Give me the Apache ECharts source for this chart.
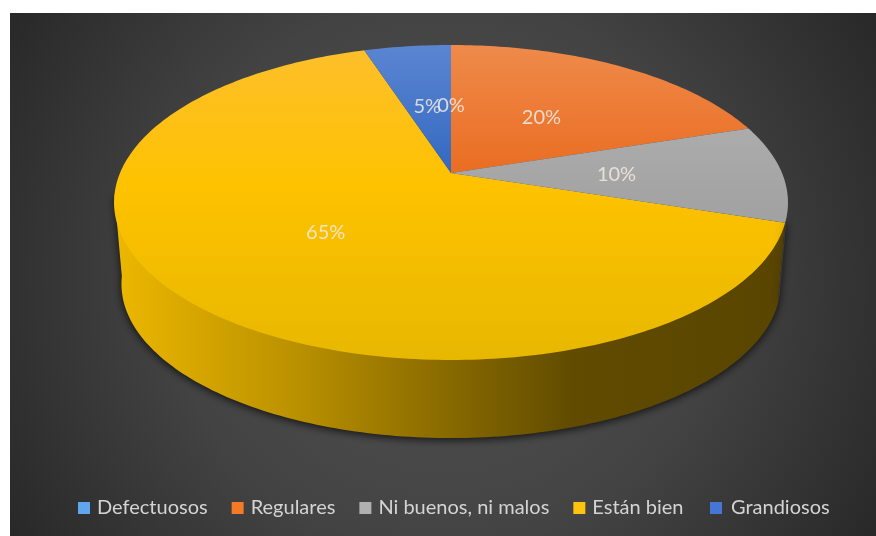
<!DOCTYPE html>
<html>
<head>
<meta charset="utf-8">
<script src="https://cdn.jsdelivr.net/npm/echarts@6/dist/echarts.min.js"></script>
<style>
html, body { margin: 0; padding: 0; background: #fff; }
#chart { width: 876px; height: 536px; }
</style>
</head>
<body>
<div id="chart"></div>
<script>
// Share of products per rating, in percent, clockwise from twelve o'clock
const categories = ['Defectuosos', 'Regulares', 'Ni buenos, ni malos', 'Están bien', 'Grandiosos'];
const percentValues = [0, 20, 10, 65, 5];
const legendColors = ['#5fa6ee', '#f37b25', '#b0b0b0', '#fcc30f', '#4676d4'];
const topFaceStops = [
  ['#7fb3e3', '#5b9bd5', '#5088bb'],
  ['#ef8a4a', '#e96a1e', '#e0651a'],
  ['#b5b5b5', '#a5a5a5', '#939393'],
  ['#fdbf2c', '#fec200', '#e7b800'],
  ['#5b85d2', '#2f66be', '#2a5cb0']
];
const wallColors = {
  2: [165, 165, 165],
  3: [255, 198, 0]
};

// Perspective disc: a unit circle is projected through a homography
const disc = { cx: 451, apexY: 173, c: 331, a: -119.57, p: 0.1873 };
const floor = { scale: 0.978, dy: 86 };
const frontArc = [105, 262];
const labelRadius = 0.5;
const labelDrop = 2;

function project(deg, r) {
  const t = deg * Math.PI / 180;
  const x = Math.sin(t) * r, y = Math.cos(t) * r;
  const w = 1 + disc.p * y;
  return [disc.cx + disc.c * x / w, (disc.a * y + disc.apexY) / w];
}
function projectFloor(deg) {
  const q = project(deg, 1);
  return [disc.cx + floor.scale * (q[0] - disc.cx), floor.dy + floor.scale * q[1]];
}
function arcAngles(from, to) {
  const out = [];
  for (let d = from; d < to; d += 1) out.push(d);
  out.push(to);
  return out;
}
function cumulativeStart(i) {
  let sum = 0;
  for (let k = 0; k < i; k++) sum += percentValues[k];
  return sum;
}
function shaded(rgb, f) {
  return 'rgb(' + rgb.map(v => Math.round(v * f)).join(',') + ')';
}

function renderSlice(i) {
  return function (params, api) {
    const value = api.value(0);
    const start = cumulativeStart(i) * 3.6;
    const end = start + value * 3.6;
    const children = [];
    const from = Math.max(start, frontArc[0]);
    const to = Math.min(end, frontArc[1]);
    if (to > from && wallColors[i]) {
      const rgb = wallColors[i];
      const pts = [project(from, 1)].concat(arcAngles(from, to).map(projectFloor), [project(to, 1)]);
      children.push({
        type: 'polygon',
        shape: { points: pts },
        style: {
          fill: {
            type: 'linear', global: true, x: 114, y: 0, x2: 788, y2: 0,
            colorStops: [
              { offset: 0, color: shaded(rgb, 0.93) },
              { offset: 0.28, color: shaded(rgb, 0.72) },
              { offset: 0.5, color: shaded(rgb, 0.53) },
              { offset: 0.68, color: shaded(rgb, 0.38) },
              { offset: 1, color: shaded(rgb, 0.35) }
            ]
          },
          shadowBlur: 8,
          shadowColor: 'rgba(0,0,0,0.75)',
          shadowOffsetX: 0,
          shadowOffsetY: 2
        }
      });
    }
    if (value > 0) {
      const stops = topFaceStops[i];
      const pts = [project(0, 0)].concat(arcAngles(start, end).map(d => project(d, 1)));
      children.push({
        type: 'polygon',
        shape: { points: pts },
        style: {
          fill: {
            type: 'linear', global: true, x: 0, y: 45, x2: 0, y2: 360,
            colorStops: [
              { offset: 0, color: stops[0] },
              { offset: 0.45, color: stops[1] },
              { offset: 1, color: stops[2] }
            ]
          }
        }
      });
    }
    const mid = project((start + end) / 2, labelRadius);
    children.push({
      type: 'text',
      z2: 10,
      style: {
        x: mid[0], y: mid[1] + labelDrop,
        text: value + '%',
        align: 'center', verticalAlign: 'middle',
        fill: 'rgba(240,235,230,0.85)',
        fontFamily: 'Lato',
        fontSize: 20
      }
    });
    return { type: 'group', children: children };
  };
}

const chart = echarts.init(document.getElementById('chart'), null, { renderer: 'canvas' });
const legendText = { color: '#d4d4d4', fontFamily: 'Lato', fontSize: 20 };
chart.setOption({
  animation: false,
  backgroundColor: '#ffffff',
  graphic: [{
    type: 'rect',
    z: -10,
    shape: { x: 10, y: 13, width: 866, height: 523 },
    style: {
      fill: {
        type: 'radial', global: true, x: 443, y: 275, r: 500,
        colorStops: [
          { offset: 0, color: '#535353' },
          { offset: 0.55, color: '#434343' },
          { offset: 1, color: '#292929' }
        ]
      }
    }
  }],
  legend: [{
    left: 73, top: 493,
    data: categories.slice(0, 4),
    icon: 'rect', itemWidth: 12, itemHeight: 12, itemGap: 24,
    textStyle: Object.assign({ padding: [0, 0, 0, 2] }, legendText)
  }, {
    left: 705, top: 493,
    data: categories.slice(4),
    icon: 'rect', itemWidth: 12, itemHeight: 12,
    textStyle: Object.assign({ padding: [0, 0, 0, 4] }, legendText)
  }],
  series: categories.map((name, i) => ({
    type: 'custom',
    name: name,
    coordinateSystem: 'none',
    z: percentValues[i] === Math.max.apply(null, percentValues) ? 1 : 2,
    itemStyle: { color: legendColors[i] },
    renderItem: renderSlice(i),
    data: [[percentValues[i]]]
  }))
});
</script>
</body>
</html>
